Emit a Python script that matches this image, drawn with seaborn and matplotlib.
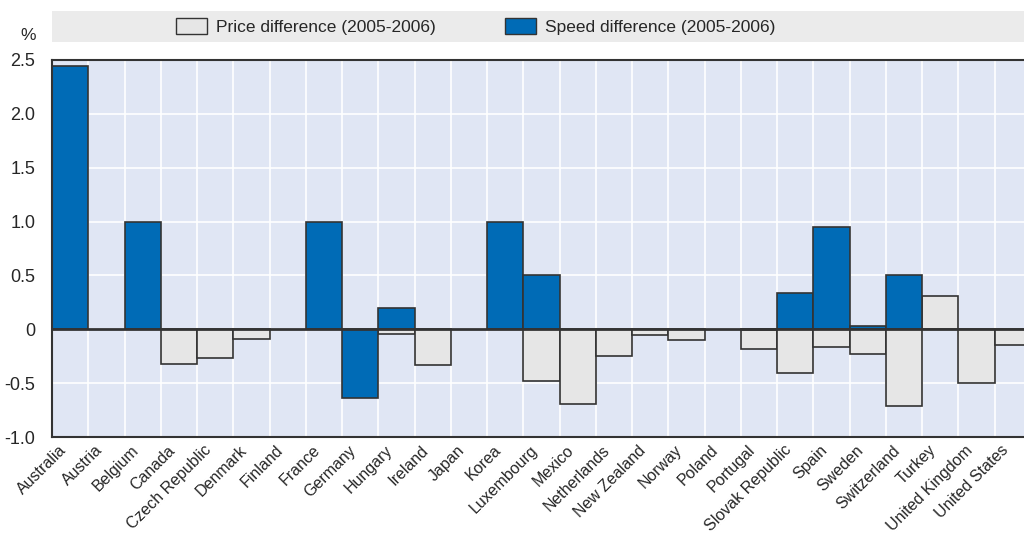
import matplotlib
matplotlib.use("Agg")
import matplotlib.pyplot as plt
import matplotlib.transforms as mtransforms
from matplotlib.patches import Patch, Rectangle
from matplotlib.ticker import FixedLocator
import numpy as np
import pandas as pd
import seaborn as sns

# Data
countries = ["Australia", "Austria", "Belgium", "Canada", "Czech Republic", "Denmark",
             "Finland", "France", "Germany", "Hungary", "Ireland", "Japan", "Korea",
             "Luxembourg", "Mexico", "Netherlands", "New Zealand", "Norway", "Poland",
             "Portugal", "Slovak Republic", "Spain", "Sweden", "Switzerland", "Turkey",
             "United Kingdom", "United States"]
price_diff = [np.nan, np.nan, np.nan, -0.32, -0.27, -0.09,
              np.nan, np.nan, np.nan, -0.04, -0.33, np.nan, np.nan,
              -0.48, -0.69, -0.25, -0.05, -0.10, np.nan,
              -0.18, -0.41, -0.16, -0.23, -0.71, 0.31,
              -0.50, -0.15]
speed_diff = [2.44, np.nan, 1.0, np.nan, np.nan, np.nan,
              np.nan, 1.0, -0.64, 0.20, np.nan, np.nan, 1.0,
              0.50, np.nan, np.nan, np.nan, np.nan, np.nan,
              -0.01, 0.34, 0.95, 0.03, 0.50, np.nan,
              np.nan, np.nan]
price_label = "Price difference (2005-2006)"
speed_label = "Speed difference (2005-2006)"

sns.set_style("white")
plt.rcParams['font.family'] = ['Liberation Sans Narrow', 'Liberation Sans', 'DejaVu Sans']

df = pd.DataFrame({
    "country": countries * 2,
    "value": price_diff + speed_diff,
    "series": [price_label] * len(countries) + [speed_label] * len(countries),
})
df = df.dropna()

W, H = 1024, 537
fig = plt.figure(figsize=(W / 100, H / 100), dpi=100)
ax = fig.add_axes([52 / W, (H - 437) / H, 979 / W, 377 / H])
ax.set_facecolor("#e0e6f4")

colors = {price_label: "#e6e6e6", speed_label: "#006bb6"}
sns.barplot(data=df, x="country", y="value", hue="series", order=countries,
            hue_order=[price_label, speed_label], palette=colors, dodge=False,
            width=1.0, errorbar=None, saturation=1, edgecolor="#333333", linewidth=1.2,
            legend=False, ax=ax, zorder=2)

ax.set_xlim(-0.5, len(countries) - 0.5)
ax.set_ylim(-1.0, 2.5)
ax.set_xlabel("")
ax.set_ylabel("")

# grid: white lines at category boundaries and y ticks
yt = [-1.0, -0.5, 0, 0.5, 1.0, 1.5, 2.0, 2.5]
ax.set_yticks(yt)
ax.set_yticklabels(["-1.0", "-0.5", "0", "0.5", "1.0", "1.5", "2.0", "2.5"], fontsize=13)
ax.xaxis.set_minor_locator(FixedLocator(np.arange(len(countries)) + 0.5))
ax.grid(which="minor", axis="x", color="white", linewidth=1.2, zorder=1)
ax.grid(which="major", axis="y", color="white", linewidth=1.2, zorder=1)
ax.set_axisbelow(True)

ax.set_xticks(range(len(countries)))
ax.set_xticklabels(countries, rotation=45, ha="right", rotation_mode="anchor", fontsize=11.5)
ax.tick_params(axis="x", which="major", length=0, pad=4)
ax.tick_params(axis="x", which="minor", direction="in", length=7, width=1.2, color="#333333")
ax.tick_params(axis="y", direction="in", length=7, width=1.2, color="#333333", pad=12)

# nudge the rotated country names left, like the original
shift = mtransforms.ScaledTranslation(-12 / 100, 0, fig.dpi_scale_trans)
for lbl in ax.get_xticklabels():
    lbl.set_transform(lbl.get_transform() + shift)

ax.axhline(0, color="#333333", linewidth=2, zorder=4)
for s in ["top", "left", "bottom"]:
    ax.spines[s].set_color("#333333")
    ax.spines[s].set_linewidth(1.5)
ax.spines["right"].set_visible(False)

# legend band
fig.patches.append(Rectangle((52 / W, (H - 42) / H), (W - 52) / W, 31 / H,
                             transform=fig.transFigure, facecolor="#ebebeb",
                             edgecolor="none", zorder=0))
handles = [Patch(facecolor="#e6e6e6", edgecolor="#333333", label=price_label),
           Patch(facecolor="#006bb6", edgecolor="#333333", label=speed_label)]
fig.legend(handles=handles, loc="center", bbox_to_anchor=(476 / W, (H - 26.5) / H),
           ncol=2, frameon=False, fontsize=12.5, handlelength=1.75, handleheight=1.0,
           columnspacing=4.0, handletextpad=0.55)

fig.text(28 / W, (H - 35) / H, "%", fontsize=12.5, ha="center", va="center")

fig.savefig("out.png", dpi=100)
